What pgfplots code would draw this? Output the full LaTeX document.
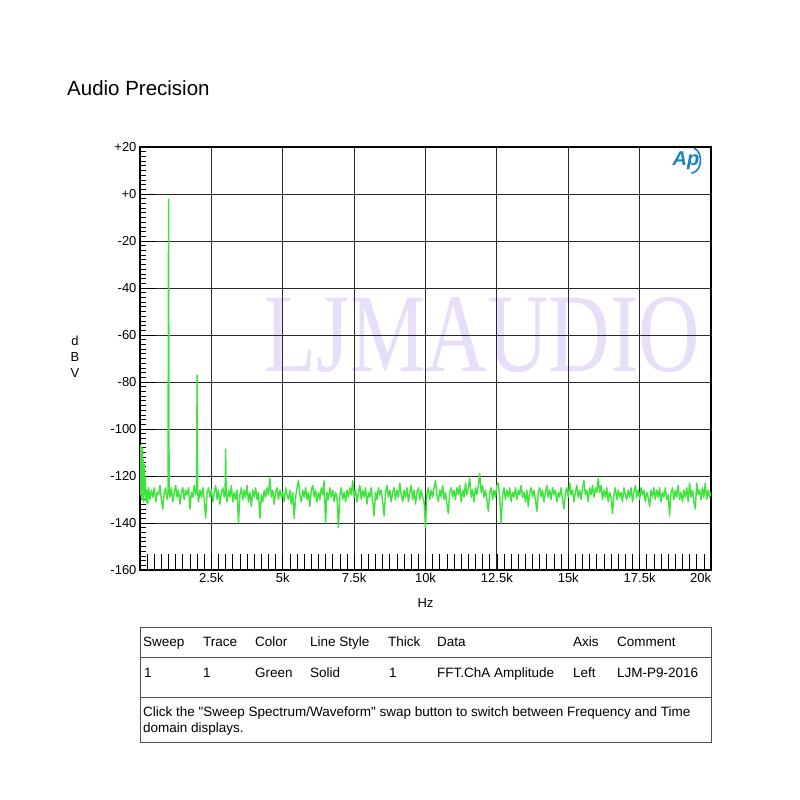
\documentclass[border=0pt]{standalone}
\usepackage{fontspec}
\setmainfont{Liberation Sans}[Ligatures=TeXOff]
\newfontfamily\wmfont{Liberation Serif}
\usepackage{pgfplots}
\pgfplotsset{compat=1.18}
\definecolor{trace}{RGB}{60,228,60}
\definecolor{wm}{RGB}{232,222,250}
\definecolor{gridc}{RGB}{40,40,40}
\definecolor{aplogo}{RGB}{25,130,195}
\definecolor{tbl}{RGB}{80,80,80}
\begin{document}
\begin{tikzpicture}[x=1pt,y=1pt]
\useasboundingbox (0,0) rectangle (800,800);
% title
\node[anchor=base west, inner sep=0pt, font=\fontsize{20.5}{24}\selectfont] at (67,704) {Audio Precision};
% watermark
\node[anchor=base, inner sep=0pt, text=wm, xscale=0.76, font=\wmfont\fontsize{112}{112}\selectfont] at (482.5,428) {LJMAUDIO};
\begin{axis}[
  at={(140pt,230pt)}, anchor=south west,
  scale only axis, width=571pt, height=423pt,
  xmin=0, xmax=20000, ymin=-160, ymax=20,
  scaled x ticks=false, scaled y ticks=false,
  xtick={0,2500,...,20000},
  xticklabels={,2.5k,5k,7.5k,10k,12.5k,15k,17.5k,\llap{20k}},
  ytick={-160,-140,...,20},
  yticklabels={-160,-140,-120,-100,-80,-60,-40,-20,+0,+20},
  minor x tick num=9,
  xtick pos=left, ytick pos=left,
  tick align=inside,
  major tick length=16pt, minor tick length=16pt,
  extra y ticks={-158,-156,...,18},
  extra y tick style={major tick length=6pt, grid=none, yticklabel={}},
  xmajorgrids, ymajorgrids,
  major grid style={gridc, line width=0.9pt},
  tick style={black, line width=0.7pt},
  minor tick style={black, line width=0.7pt},
  axis line style={black, line width=1.1pt},
  tick label style={font=\fontsize{13}{13}\selectfont},
  xlabel={Hz}, ylabel={d\\B\\V},
  xlabel style={font=\fontsize{13}{13}\selectfont, at={(axis description cs:0.5,-0.078)}, anchor=center},
  ylabel style={rotate=-90, align=center, font=\fontsize{13}{16}\selectfont, at={(axis description cs:-0.114,0.505)}, anchor=center},
  clip=true,
]
\addplot[trace, line width=1.4pt, line join=round] coordinates {
(0,-121) (15,-107) (30,-128) (45,-110) (60,-130) (75,-108) (90,-126) (110,-113) (130,-131) (150,-115) (170,-128) (190,-121) (210,-131) (240,-126) (270,-132) (300,-125)
(350,-130) (400,-126) (450,-129) (500,-125) (550,-131) (600,-127) (650,-128) (700,-124) (750,-130) (800,-134) (850,-127) (900,-125) (950,-130) (980,-127) (1000,-2.3) (1020,-126)
(1050,-129) (1100,-125) (1150,-131) (1200,-127) (1250,-124) (1300,-129) (1350,-126) (1400,-132) (1450,-127) (1500,-125) (1550,-130) (1600,-126) (1650,-128) (1700,-125) (1750,-134) (1800,-127) (1850,-129) (1900,-124) (1950,-128) (1980,-126) (2000,-77.1) (2020,-127)
(2050,-131) (2100,-126) (2150,-129) (2200,-125) (2250,-130) (2300,-138) (2350,-127) (2400,-125) (2450,-129) (2500,-126) (2550,-131) (2600,-127) (2650,-124) (2700,-130) (2750,-126) (2800,-132) (2850,-127) (2900,-125) (2950,-129) (2980,-127) (3000,-108.6) (3020,-128)
(3050,-131) (3100,-126) (3150,-129) (3200,-124) (3250,-131) (3300,-127) (3350,-130) (3400,-126) (3450,-140) (3500,-128) (3550,-125) (3600,-130) (3650,-126) (3700,-129) (3750,-124) (3800,-131) (3850,-127) (3900,-133) (3950,-126) (4000,-129)
(4050,-125) (4100,-130) (4150,-127) (4200,-138) (4250,-128) (4300,-131) (4350,-126) (4400,-129) (4450,-125) (4500,-128) (4550,-121) (4600,-129) (4650,-126) (4700,-132) (4750,-127) (4800,-125) (4850,-130) (4900,-126) (4950,-129) (5000,-127)
(5050,-131) (5100,-125) (5150,-128) (5200,-130) (5250,-126) (5300,-132) (5350,-127) (5400,-138) (5450,-129) (5500,-125) (5550,-122) (5600,-128) (5650,-131) (5700,-126) (5750,-129) (5800,-125) (5850,-130) (5900,-127) (5950,-133) (6000,-126)
(6050,-124) (6100,-129) (6150,-126) (6200,-131) (6250,-127) (6300,-130) (6350,-125) (6400,-128) (6450,-122) (6500,-140) (6550,-127) (6600,-130) (6650,-125) (6700,-129) (6750,-126) (6800,-131) (6850,-127) (6900,-129) (6950,-142) (7000,-128)
(7050,-125) (7100,-130) (7150,-127) (7200,-131) (7250,-126) (7300,-129) (7350,-125) (7400,-128) (7450,-122) (7500,-129) (7550,-126) (7600,-131) (7650,-127) (7700,-124) (7750,-130) (7800,-126) (7850,-129) (7900,-125) (7950,-132) (8000,-127)
(8050,-129) (8100,-125) (8150,-131) (8200,-137) (8250,-127) (8300,-130) (8350,-125) (8400,-128) (8450,-126) (8500,-131) (8550,-137) (8600,-127) (8650,-124) (8700,-129) (8750,-126) (8800,-131) (8850,-127) (8900,-125) (8950,-130) (9000,-126)
(9050,-129) (9100,-123) (9150,-128) (9200,-131) (9250,-126) (9300,-129) (9350,-125) (9400,-131) (9450,-127) (9500,-124) (9550,-130) (9600,-126) (9650,-132) (9700,-127) (9750,-125) (9800,-130) (9850,-126) (9900,-129) (9950,-131) (10000,-142)
(10050,-128) (10100,-125) (10150,-130) (10200,-126) (10250,-129) (10300,-125) (10350,-122) (10400,-128) (10450,-131) (10500,-126) (10550,-129) (10600,-124) (10650,-130) (10700,-127) (10750,-132) (10800,-136) (10850,-127) (10900,-125) (10950,-129) (11000,-126)
(11050,-130) (11100,-125) (11150,-128) (11200,-124) (11250,-131) (11300,-126) (11350,-129) (11400,-123) (11450,-128) (11500,-125) (11550,-121) (11600,-129) (11650,-126) (11700,-131) (11750,-125) (11800,-128) (11850,-124) (11900,-119) (11950,-127) (12000,-124)
(12050,-129) (12100,-126) (12150,-130) (12200,-135) (12250,-127) (12300,-125) (12350,-130) (12400,-126) (12450,-129) (12500,-124) (12550,-123) (12600,-129) (12650,-140) (12700,-128) (12750,-125) (12800,-130) (12850,-126) (12900,-129) (12950,-125) (13000,-131)
(13050,-127) (13100,-129) (13150,-125) (13200,-130) (13250,-126) (13300,-128) (13350,-124) (13400,-129) (13450,-127) (13500,-131) (13550,-126) (13600,-133) (13650,-127) (13700,-125) (13750,-129) (13800,-126) (13850,-130) (13900,-135) (13950,-127) (14000,-125)
(14050,-129) (14100,-126) (14150,-131) (14200,-127) (14250,-124) (14300,-129) (14350,-126) (14400,-130) (14450,-125) (14500,-128) (14550,-126) (14600,-131) (14650,-127) (14700,-129) (14750,-125) (14800,-130) (14850,-134) (14900,-127) (14950,-125) (15000,-129)
(15050,-123) (15100,-128) (15150,-126) (15200,-131) (15250,-127) (15300,-124) (15350,-129) (15400,-126) (15450,-130) (15500,-125) (15550,-122) (15600,-128) (15650,-126) (15700,-131) (15750,-125) (15800,-128) (15850,-124) (15900,-129) (15950,-125) (16000,-127)
(16050,-121) (16100,-127) (16150,-124) (16200,-130) (16250,-126) (16300,-129) (16350,-125) (16400,-131) (16450,-127) (16500,-129) (16550,-136) (16600,-128) (16650,-125) (16700,-130) (16750,-126) (16800,-129) (16850,-127) (16900,-131) (16950,-125) (17000,-128)
(17050,-130) (17100,-126) (17150,-129) (17200,-125) (17250,-131) (17300,-127) (17350,-124) (17400,-129) (17450,-126) (17500,-130) (17550,-125) (17600,-128) (17650,-126) (17700,-131) (17750,-127) (17800,-129) (17850,-133) (17900,-126) (17950,-129) (18000,-125)
(18050,-130) (18100,-126) (18150,-129) (18200,-125) (18250,-131) (18300,-127) (18350,-129) (18400,-125) (18450,-130) (18500,-128) (18550,-137) (18600,-127) (18650,-125) (18700,-130) (18750,-126) (18800,-129) (18850,-124) (18900,-130) (18950,-127) (19000,-131)
(19050,-126) (19100,-129) (19150,-125) (19200,-131) (19250,-123) (19300,-129) (19350,-126) (19400,-131) (19450,-134) (19500,-123) (19550,-128) (19600,-126) (19650,-130) (19700,-125) (19750,-129) (19800,-123) (19850,-130) (19900,-126) (19950,-129) (20000,-127)
};
\end{axis}
% AP logo
\node[text=aplogo, font=\fontsize{20}{20}\selectfont\bfseries\itshape, inner sep=0pt] at (686,639) {Ap};
\draw[aplogo, line width=1.6pt] (694,652) arc[start angle=70, end angle=-85, x radius=10, y radius=13];
% table
\draw[tbl, line width=0.9pt] (140,173) rectangle (711,58);
\draw[tbl, line width=0.9pt] (140,143) -- (711,143);
\draw[tbl, line width=0.9pt] (140,103) -- (711,103);
\begin{scope}[every node/.style={anchor=base west, inner sep=0pt, font=\fontsize{13.5}{13.5}\selectfont}]
\node at (143,153) {Sweep};
\node at (203,153) {Trace};
\node at (255,153) {Color};
\node at (310,153) {Line Style};
\node at (388,153) {Thick};
\node at (437,153) {Data};
\node at (573,153) {Axis};
\node at (617,153) {Comment};
\node at (144,122) {1};
\node at (203,122) {1};
\node at (255,122) {Green};
\node at (310,122) {Solid};
\node at (389,122) {1};
\node at (437,122) {FFT.ChA Amplitude};
\node at (573,122) {Left};
\node at (617,122) {LJM-P9-2016};
\node at (143,83) {Click the "Sweep Spectrum/Waveform" swap button to switch between Frequency and Time};
\node at (143,67) {domain displays.};
\end{scope}
\end{tikzpicture}
\end{document}
